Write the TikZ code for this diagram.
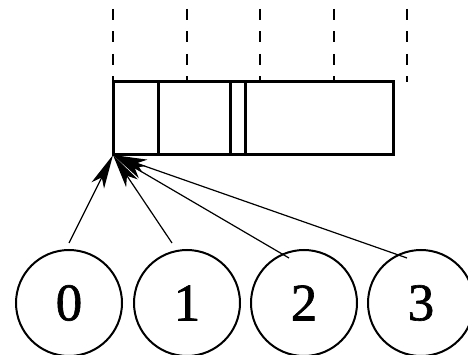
\documentclass[tikz,border=0pt]{standalone}
\usepackage{fontspec}
\setmainfont[FakeBold=1.2]{Liberation Serif}
\usetikzlibrary{arrows.meta}

\begin{document}
\begin{tikzpicture}[x=1pt,y=-1pt,
  slot/.style={circle, draw, line width=2pt, minimum size=106pt, inner sep=0pt,
    font=\fontsize{53}{60}\selectfont},
  ptr/.style={line width=1.2pt, -{Stealth[length=34pt,width=14pt,inset=9pt]}}]
\useasboundingbox (0,0) rectangle (468,355);
\clip (0,0) rectangle (468,355);
% guide lines above the buffer
\foreach \x in {113,187,260,334,407}
  \draw[line width=1.5pt, dash pattern=on 11pt off 11.5pt] (\x,9) -- (\x,82);
% the buffer and its fields
\draw[line width=3pt] (113,82) rectangle (393,155);
\draw[line width=3pt] (158,82) -- (158,155);
\draw[line width=3pt] (230,82) -- (230,155);
\draw[line width=3pt] (245,82) -- (245,155);
\coordinate (base) at (113,155);
% the numbered slots
\node[slot] (s0) at (69,303) {0};
\node[slot] (s1) at (187,303) {1};
\node[slot] (s2) at (304,303) {2};
\node[slot] (s3) at (421,303) {3};
\coordinate (p0) at (69,243);
\coordinate (p1) at (172,243);
\coordinate (p2) at (289,258);
\coordinate (p3) at (407,258);
\foreach \i in {0,...,3}
  \draw[ptr] (p\i) -- (base);
\end{tikzpicture}
\end{document}
